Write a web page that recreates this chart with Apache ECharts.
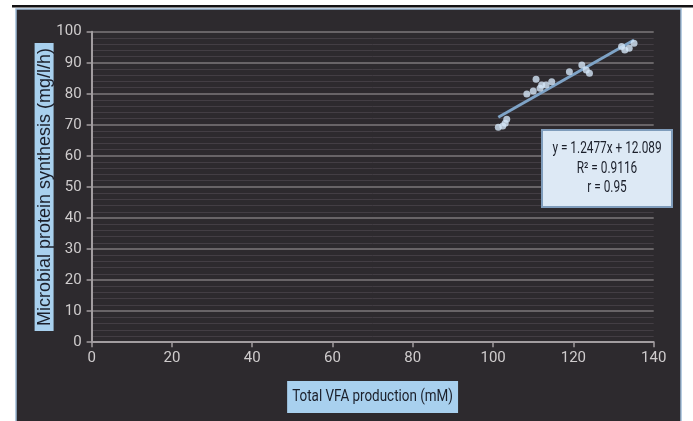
<!DOCTYPE html>
<html>
<head>
<meta charset="utf-8">
<script src="https://cdn.jsdelivr.net/npm/echarts@6/dist/echarts.min.js"></script>
<style>
  html, body { margin: 0; padding: 0; background: #ffffff; }
  #chart { width: 693px; height: 421px; }
</style>
</head>
<body>
<div id="chart"></div>
<script>
// Total VFA production (mM) against microbial protein synthesis (mg/l/h)
const vfaProduction = [101.3, 102.4, 103.0, 103.4, 108.4, 110.0, 110.7, 111.7, 112.1, 113.2,
                       114.6, 119.0, 122.1, 123.2, 124.0, 132.0, 132.8, 133.9, 135.1];
const proteinSynthesis = [69.2, 69.6, 70.5, 71.8, 79.9, 80.9, 84.7, 81.8, 82.8, 82.8,
                          83.9, 87.1, 89.3, 87.7, 86.6, 95.2, 94.1, 94.7, 96.3];
const fitLabelLines = ['y = 1.2477x + 12.089', 'R² = 0.9116', 'r = 0.95'];
const xTitle = 'Total VFA production (mM)';
const yTitle = 'Microbial protein synthesis (mg/l/h)';

const labelFont = "Roboto, 'Liberation Sans', sans-serif";

// Least-squares trend line through the scatter
const n = vfaProduction.length;
const mx = vfaProduction.reduce((a, b) => a + b, 0) / n;
const my = proteinSynthesis.reduce((a, b) => a + b, 0) / n;
let sxy = 0, sxx = 0;
for (let i = 0; i < n; i++) {
  sxy += (vfaProduction[i] - mx) * (proteinSynthesis[i] - my);
  sxx += (vfaProduction[i] - mx) * (vfaProduction[i] - mx);
}
const slope = sxy / sxx;
const intercept = my - slope * mx;
const xLo = Math.min(...vfaProduction), xHi = Math.max(...vfaProduction);
const trend = [[xLo, slope * xLo + intercept], [xHi, slope * xHi + intercept]];

const chart = echarts.init(document.getElementById('chart'), null, { renderer: 'canvas' });
chart.setOption({
  backgroundColor: '#ffffff',
  animation: false,
  grid: { left: 91.6, right: 39.3, top: 31.7, bottom: 78.8 },
  xAxis: {
    type: 'value', min: 0, max: 140, interval: 20,
    axisLine: { show: true, lineStyle: { color: '#a29da0', width: 2 } },
    axisTick: { show: true, length: 5, lineStyle: { color: '#a29da0', width: 1.5 } },
    axisLabel: { color: '#cfcccd', fontSize: 15, fontFamily: labelFont, margin: 9 },
    splitLine: { show: false }
  },
  yAxis: {
    type: 'value', min: 0, max: 100, interval: 10,
    name: yTitle, nameLocation: 'middle', nameRotate: 90, nameGap: 38,
    nameMoveOverlap: false,
    nameTextStyle: {
      color: '#1b1f2a', fontSize: 18, fontFamily: "'Liberation Sans', Arial, sans-serif",
      backgroundColor: '#a8d0ee', padding: [1, 5, 0, 5]
    },
    axisLine: { show: true, lineStyle: { color: '#a29da0', width: 2 } },
    axisTick: { show: true, length: 5, lineStyle: { color: '#a29da0', width: 1.5 } },
    axisLabel: { color: '#cfcccd', fontSize: 15, fontFamily: labelFont, margin: 10 },
    splitLine: { show: true, lineStyle: { color: '#7d787b', width: 1.5 } },
    minorTick: { show: false, splitNumber: 5 },
    minorSplitLine: { show: true, lineStyle: { color: '#433e44', width: 1 } }
  },
  series: [
    {
      type: 'line', data: trend, symbol: 'none', z: 3,
      lineStyle: { color: '#7ea3c6', width: 3 }
    },
    {
      type: 'scatter', z: 4, symbolSize: 7,
      data: vfaProduction.map((x, i) => [x, proteinSynthesis[i]]),
      itemStyle: { color: '#d3e6f7' }
    }
  ],
  graphic: [
    // dark panel and the rule above it
    { type: 'rect', z: -10, shape: { x: 16, y: 9, width: 665, height: 420 },
      style: { fill: '#2d2a2e', stroke: '#9fbcd8', lineWidth: 1.5 } },
    { type: 'rect', z: -9, shape: { x: 12, y: 5, width: 681, height: 2.5 },
      style: { fill: '#141214' } },
    // x-axis title, narrowed horizontally
    { type: 'text', z: 50, x: 372.6, y: 397, scaleX: 0.84,
      style: { text: xTitle, textAlign: 'center', textVerticalAlign: 'middle',
               fill: '#1b1f2a', font: "16px Roboto, 'Liberation Sans', sans-serif",
               backgroundColor: '#a8d0ee', padding: [8, 6, 8, 6] } },
    // regression annotation
    { type: 'rect', z: 100, shape: { x: 542, y: 130, width: 130, height: 77 },
      style: { fill: '#dde9f5', stroke: '#7f9cbb', lineWidth: 2 } },
    { type: 'text', z: 101, x: 607, y: 168.5, scaleX: 0.74,
      style: { text: fitLabelLines.join('\n'), textAlign: 'center', textVerticalAlign: 'middle',
               fill: '#1b1f2a', font: "16px Roboto, 'Liberation Sans', sans-serif",
               lineHeight: 19.5 } }
  ]
});
</script>
</body>
</html>
